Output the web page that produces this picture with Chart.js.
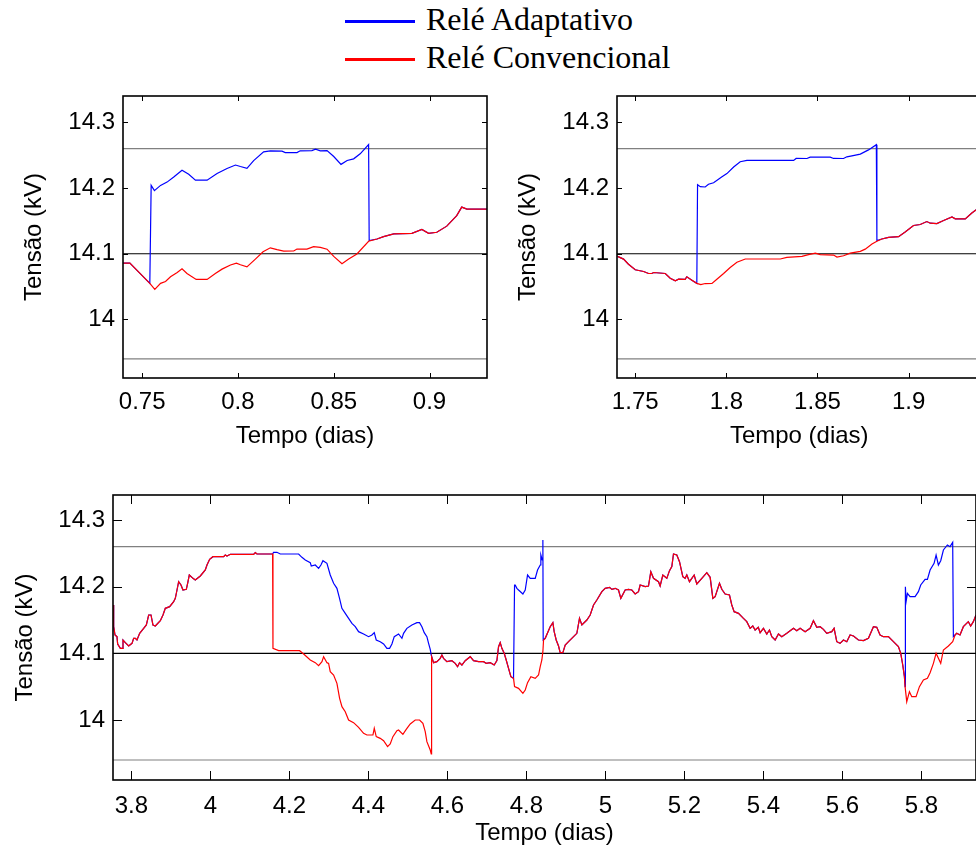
<!DOCTYPE html>
<html>
<head>
<meta charset="utf-8">
<script src="https://cdn.jsdelivr.net/npm/chart.js@4.4.0/dist/chart.umd.min.js"></script>
<style>
  html, body { margin: 0; padding: 0; background: #fff; overflow: hidden; width: 976px; height: 850px; }
  canvas { position: absolute; }
  #legend { position: absolute; left: 345px; top: 0; font-family: "Liberation Serif", "Times New Roman", serif; font-size: 32px; line-height: 38px; color: #000; }
  .item { display: flex; align-items: center; height: 38px; white-space: nowrap; }
  .swatch { width: 70px; height: 3px; margin-right: 11px; position: relative; top: 2px; }
</style>
</head>
<body>
<div id="legend">
  <div class="item"><span class="swatch" style="background:#0000ff"></span>Relé Adaptativo</div>
  <div class="item"><span class="swatch" style="background:#ff0000"></span>Relé Convencional</div>
</div>
<canvas id="chartA" width="500" height="380" style="left:0;top:80px"></canvas>
<canvas id="chartB" width="500" height="380" style="left:500px;top:80px"></canvas>
<canvas id="chartC" width="1000" height="380" style="left:0;top:470px"></canvas>
<script>
// tensão (kV) x tempo (dias)
const NOMINAL = 14.1;
const LIMIT_UP = 14.26;
const LIMIT_LOW = 13.94;
const Y_TICKS = [14, 14.1, 14.2, 14.3];

// janela 1 (0.74 - 0.93 dias)
const A_X_TICKS = [0.75, 0.8, 0.85, 0.9];
const A_START = [[0.7401,14.0858],[0.7436,14.0858],[0.754,14.055]];
const A_CONV = [[0.7566,14.0459],[0.7596,14.055],[0.7622,14.0578],[0.7648,14.065],[0.7683,14.0715],[0.7708,14.077],[0.7734,14.07],[0.7782,14.061],[0.7839,14.061],[0.7882,14.07],[0.7917,14.0766],[0.7961,14.083],[0.7992,14.0858],[0.8013,14.0833],[0.8047,14.08],[0.8091,14.0919],[0.8131,14.103],[0.8169,14.109],[0.8204,14.1062],[0.8239,14.104],[0.8291,14.1042],[0.8308,14.1072],[0.836,14.1072],[0.8395,14.1108],[0.843,14.1098],[0.8465,14.107],[0.85,14.096],[0.8543,14.085],[0.8578,14.0919],[0.8621,14.0996],[0.8682,14.119]];
const A_ADAPT = [[0.7547,14.204],[0.7564,14.196],[0.7596,14.204],[0.763,14.209],[0.7665,14.2168],[0.7708,14.227],[0.7743,14.2209],[0.7778,14.212],[0.7839,14.212],[0.7891,14.222],[0.7943,14.2296],[0.7987,14.235],[0.8013,14.2327],[0.8047,14.23],[0.8082,14.2418],[0.8134,14.255],[0.8169,14.2566],[0.823,14.256],[0.8247,14.254],[0.8308,14.254],[0.8325,14.2566],[0.8386,14.257],[0.8405,14.259],[0.843,14.2566],[0.8465,14.257],[0.85,14.2479],[0.8538,14.236],[0.857,14.2419],[0.8604,14.2444],[0.8638,14.252],[0.8682,14.266],[0.8685,14.12]];
const A_END = [[0.8726,14.1225],[0.876,14.126],[0.8813,14.1302],[0.8908,14.131],[0.896,14.137],[0.8995,14.131],[0.9038,14.1327],[0.909,14.142],[0.9142,14.158],[0.9168,14.171],[0.9195,14.168],[0.93,14.168]];

// janela 2 (1.74 - 1.94 dias)
const B_X_TICKS = [1.75, 1.8, 1.85, 1.9];
const B_START = [[1.7403,14.096],[1.7436,14.0919],[1.7463,14.084],[1.75,14.0756],[1.7546,14.073],[1.7573,14.07],[1.7591,14.07],[1.7601,14.0715],[1.7665,14.07],[1.7692,14.0628],[1.772,14.059],[1.7738,14.0613],[1.7774,14.061],[1.7783,14.065],[1.7811,14.0598],[1.7838,14.055]];
const B_CONV = [[1.786,14.053],[1.7884,14.0547],[1.7921,14.055],[1.7948,14.0613],[1.7985,14.07],[1.8021,14.0792],[1.8058,14.087],[1.8104,14.092],[1.8296,14.092],[1.8332,14.0945],[1.8415,14.096],[1.8451,14.0986],[1.8488,14.101],[1.8515,14.0986],[1.8588,14.098],[1.8607,14.095],[1.8643,14.097],[1.868,14.101],[1.8735,14.1037],[1.8762,14.107],[1.8799,14.1149],[1.8826,14.119]];
const B_ADAPT = [[1.7842,14.205],[1.7857,14.202],[1.7884,14.2016],[1.7902,14.2057],[1.793,14.208],[1.7976,14.217],[1.8003,14.222],[1.804,14.232],[1.8076,14.24],[1.8113,14.242],[1.8369,14.242],[1.8383,14.245],[1.8442,14.2449],[1.846,14.247],[1.857,14.247],[1.8588,14.245],[1.8643,14.2449],[1.8661,14.2475],[1.8689,14.249],[1.8735,14.2516],[1.878,14.258],[1.8823,14.266],[1.8826,14.12]];
const B_END = [[1.8853,14.1225],[1.889,14.125],[1.8945,14.126],[1.8981,14.133],[1.9027,14.143],[1.9064,14.1445],[1.91,14.149],[1.9119,14.1465],[1.9155,14.146],[1.9192,14.1506],[1.9238,14.156],[1.9256,14.1531],[1.9311,14.153],[1.9347,14.162],[1.9371,14.167],[1.94,14.172]];

// janela 3 (3.75 - 5.94 dias)
const C_X_TICKS = [3.8, 4, 4.2, 4.4, 4.6, 4.8, 5, 5.2, 5.4, 5.6, 5.8];
const C_START = [[3.7536,14.1725],[3.7553,14.14],[3.7587,14.1275],[3.7637,14.125],[3.7654,14.114],[3.7722,14.1075],[3.7764,14.1075],[3.7789,14.12],[3.7848,14.116],[3.7933,14.111],[3.8017,14.115],[3.8059,14.1225],[3.8101,14.1225],[3.8143,14.12],[3.8211,14.13],[3.8312,14.1375],[3.838,14.1425],[3.8439,14.1575],[3.8498,14.1575],[3.8548,14.1425],[3.8607,14.141],[3.8734,14.149],[3.8801,14.1575],[3.886,14.1675],[3.897,14.17],[3.9071,14.1775],[3.9113,14.1825],[3.9156,14.195],[3.9198,14.2075],[3.9257,14.2025],[3.9307,14.195],[3.9392,14.196],[3.9425,14.205],[3.9468,14.2175],[3.956,14.2125],[3.9619,14.21],[3.9746,14.216],[3.9872,14.225],[3.9915,14.2325],[3.9982,14.241],[4.0066,14.245],[4.0336,14.245],[4.0378,14.2475],[4.0421,14.246],[4.0505,14.2485],[4.1095,14.2485],[4.1138,14.251],[4.118,14.249],[4.1576,14.249]];
const C_CONV_1 = [[4.1585,14.1075],[4.1728,14.104],[4.2259,14.104],[4.2361,14.099],[4.2529,14.09],[4.2656,14.086],[4.274,14.0815],[4.2825,14.0875],[4.2867,14.095],[4.2951,14.086],[4.2993,14.085],[4.3035,14.0725],[4.312,14.0675],[4.3204,14.055],[4.3272,14.0325],[4.3331,14.02],[4.3415,14.0125],[4.3499,14.0],[4.3626,13.996],[4.3752,13.989],[4.3879,13.98],[4.3963,13.9775],[4.4115,13.9775],[4.4149,13.9875],[4.4199,13.975],[4.43,13.9725],[4.4385,13.969],[4.4486,13.96],[4.4553,13.964],[4.4621,13.975],[4.4722,13.984],[4.4764,13.985],[4.4874,13.9785],[4.4958,13.986],[4.506,13.994],[4.5186,14.0],[4.5296,14.0],[4.538,13.995],[4.5439,13.9825],[4.5481,13.9675],[4.5566,13.955],[4.5591,13.949],[4.56,14.095]];
const C_ADAPT_1 = [[4.16,14.2515],[4.1685,14.2515],[4.177,14.249],[4.2234,14.249],[4.2318,14.244],[4.2403,14.24],[4.2529,14.236],[4.2555,14.231],[4.2656,14.2325],[4.274,14.2275],[4.2799,14.2325],[4.285,14.239],[4.2951,14.235],[4.3035,14.2175],[4.312,14.205],[4.3204,14.1975],[4.327,14.1825],[4.333,14.1675],[4.3415,14.16],[4.35,14.1525],[4.3584,14.145],[4.3668,14.14],[4.3752,14.1325],[4.3879,14.129],[4.4005,14.125],[4.409,14.1275],[4.4149,14.131],[4.4199,14.12],[4.43,14.1175],[4.4385,14.114],[4.4469,14.1075],[4.4537,14.1075],[4.4596,14.114],[4.4655,14.125],[4.4764,14.129],[4.4849,14.1225],[4.4891,14.13],[4.4975,14.1375],[4.5102,14.1425],[4.5228,14.146],[4.5295,14.146],[4.5355,14.14],[4.5414,14.131],[4.5481,14.125],[4.5524,14.115],[4.5566,14.106],[4.5591,14.0975]];
const C_MID_1 = [[4.565,14.086],[4.5734,14.0875],[4.5819,14.0925],[4.5861,14.0975],[4.5903,14.0925],[4.5987,14.0875],[4.6113,14.089],[4.6198,14.085],[4.6257,14.08],[4.6308,14.086],[4.6367,14.0825],[4.6451,14.089],[4.6578,14.095],[4.6662,14.089],[4.6789,14.0875],[4.6915,14.0875],[4.6983,14.085],[4.7084,14.086],[4.7185,14.0825],[4.7253,14.089],[4.7295,14.11],[4.7337,14.116],[4.7379,14.1075],[4.7438,14.1],[4.7489,14.09],[4.7548,14.0775],[4.7607,14.065],[4.7674,14.0625]];
const C_CONV_2 = [[4.77,14.05],[4.7801,14.0475],[4.7911,14.04],[4.797,14.045],[4.8029,14.056],[4.8113,14.065],[4.8223,14.0625],[4.8307,14.0675],[4.835,14.08],[4.8391,14.09],[4.8417,14.1025],[4.8434,14.12]];
const C_ADAPT_2 = [[4.77,14.2025],[4.7717,14.2025],[4.7759,14.1975],[4.7801,14.195],[4.7911,14.189],[4.797,14.195],[4.8029,14.2175],[4.8097,14.2125],[4.8223,14.2125],[4.8282,14.225],[4.835,14.2325],[4.8366,14.2475],[4.84,14.24],[4.8417,14.27],[4.8425,14.12]];
const C_MID_2 = [[4.8476,14.1225],[4.8602,14.14],[4.867,14.146],[4.8703,14.1325],[4.8754,14.12],[4.8813,14.111],[4.8855,14.101],[4.8923,14.101],[4.8982,14.1125],[4.9066,14.1175],[4.9193,14.125],[4.9277,14.13],[4.9344,14.1525],[4.9404,14.1425],[4.953,14.15],[4.9614,14.1575],[4.9699,14.1725],[4.9783,14.18],[4.991,14.1925],[4.9994,14.1975],[5.0104,14.199],[5.0163,14.196],[5.0247,14.1975],[5.0331,14.195],[5.039,14.1825],[5.05,14.195],[5.0584,14.196],[5.0668,14.195],[5.0753,14.189],[5.0837,14.1925],[5.0879,14.2025],[5.1006,14.2],[5.109,14.201],[5.1149,14.2225],[5.1217,14.2125],[5.1343,14.2075],[5.1385,14.201],[5.1453,14.2175],[5.1554,14.2125],[5.1622,14.224],[5.1681,14.23],[5.1723,14.249],[5.1807,14.2475],[5.1875,14.2375],[5.1959,14.215],[5.2018,14.2125],[5.206,14.2175],[5.2128,14.2075],[5.2187,14.2125],[5.2246,14.2175],[5.2313,14.204],[5.244,14.2125],[5.2566,14.221],[5.2651,14.214],[5.2719,14.1825],[5.2777,14.185],[5.2887,14.205],[5.2946,14.196],[5.303,14.189],[5.314,14.1875],[5.3199,14.1725],[5.3258,14.1625],[5.3368,14.16],[5.3494,14.1525],[5.3578,14.1475],[5.3663,14.1375],[5.373,14.141],[5.3789,14.135],[5.387,14.139],[5.3916,14.131],[5.4,14.1375],[5.4085,14.129],[5.4152,14.135],[5.4211,14.125],[5.4296,14.12],[5.438,14.129],[5.4464,14.125],[5.4591,14.13],[5.476,14.1375],[5.4844,14.134],[5.4928,14.1375],[5.5055,14.1325],[5.5181,14.1375],[5.5265,14.149],[5.535,14.139],[5.5434,14.14],[5.5518,14.136],[5.5603,14.13],[5.5729,14.1325],[5.5788,14.1375],[5.5856,14.1175],[5.594,14.115],[5.6025,14.12],[5.6109,14.1175],[5.6193,14.1275],[5.6278,14.126],[5.6404,14.12],[5.6531,14.119],[5.6657,14.1225],[5.6784,14.14],[5.6868,14.139],[5.6952,14.1275],[5.7037,14.125],[5.7163,14.125],[5.729,14.1175],[5.7416,14.11],[5.7475,14.1],[5.7526,14.0825],[5.7568,14.065],[5.7585,14.05]];
const C_CONV_3 = [[5.7627,14.0275],[5.7695,14.0425],[5.7754,14.035],[5.7863,14.035],[5.7948,14.05],[5.8049,14.06],[5.815,14.0625],[5.8218,14.071],[5.8302,14.085],[5.837,14.1],[5.8428,14.0925],[5.8487,14.085],[5.8555,14.105],[5.8681,14.111],[5.879,14.1175]];
const C_ADAPT_3 = [[5.7593,14.2],[5.761,14.1775],[5.7644,14.19],[5.7711,14.185],[5.7838,14.185],[5.7922,14.1925],[5.7981,14.2025],[5.8091,14.211],[5.815,14.211],[5.8218,14.225],[5.8319,14.235],[5.837,14.2475],[5.8428,14.2325],[5.8487,14.239],[5.8555,14.255],[5.8656,14.2625],[5.8723,14.26],[5.879,14.2665],[5.8807,14.125]];
const C_END = [[5.8849,14.1275],[5.8891,14.13],[5.8975,14.1275],[5.906,14.14],[5.9186,14.1475],[5.9245,14.141],[5.9313,14.1475],[5.938,14.1575]];

const FONT = '"Liberation Sans", Arial, Helvetica, sans-serif';
const toXY = pts => pts.map(([t, v]) => ({x: t, y: v}));
const fmt = v => String(Number(v.toFixed(3)));

// caixa e marcas para dentro (estilo MATLAB)
const matlabFrame = {
  id: 'matlabFrame',
  afterDatasetsDraw(chart, args, opts) {
    const {ctx, chartArea: a, scales: {x, y}} = chart;
    const len = opts.tickLen;
    ctx.save();
    ctx.strokeStyle = '#000';
    ctx.lineWidth = 1;
    ctx.beginPath();
    x.ticks.forEach(t => {
      const px = Math.round(x.getPixelForValue(t.value)) + 0.5;
      ctx.moveTo(px, a.bottom); ctx.lineTo(px, a.bottom - len);
      ctx.moveTo(px, a.top); ctx.lineTo(px, a.top + len);
    });
    y.ticks.forEach(t => {
      const py = Math.round(y.getPixelForValue(t.value)) + 0.5;
      ctx.moveTo(a.left, py); ctx.lineTo(a.left + len, py);
      ctx.moveTo(a.right, py); ctx.lineTo(a.right - len, py);
    });
    ctx.stroke();
    ctx.lineWidth = 1.6;
    ctx.strokeRect(a.left, a.top, a.right - a.left, a.bottom - a.top);
    ctx.restore();
  }
};

function refLine(xMin, xMax, val, color) {
  return {data: [{x: xMin, y: val}, {x: xMax, y: val}], borderColor: color, borderWidth: 1.2, pointRadius: 0};
}

function makeChart(id, cfg) {
  const conv = cfg.conv, adapt = cfg.adapt;
  new Chart(document.getElementById(id), {
    type: 'line',
    data: {
      datasets: [
        {label: 'Relé Convencional', data: toXY(conv), borderColor: '#ff0000', borderWidth: 1.2, pointRadius: 0, tension: 0},
        {label: 'Relé Adaptativo', data: toXY(adapt), borderColor: '#0000ff', borderWidth: 1.2, pointRadius: 0, tension: 0},
        refLine(cfg.xMin, cfg.xMax, NOMINAL, '#000000'),
        refLine(cfg.xMin, cfg.xMax, LIMIT_UP, '#808080'),
        refLine(cfg.xMin, cfg.xMax, LIMIT_LOW, '#808080')
      ]
    },
    options: {
      responsive: false,
      animation: false,
      layout: {padding: {top: cfg.padTop, right: cfg.padRight, left: 0, bottom: 0}},
      plugins: {legend: {display: false}, tooltip: {enabled: false}, matlabFrame: {tickLen: cfg.tickLen}},
      scales: {
        x: {
          type: 'linear', min: cfg.xMin, max: cfg.xMax,
          afterBuildTicks: s => { s.ticks = cfg.xTicks.map(v => ({value: v})); },
          afterFit: s => { s.height = cfg.xAxisH; s.paddingLeft = 0; s.paddingRight = 0; },
          grid: {display: false, drawTicks: false},
          border: {display: false},
          ticks: {padding: cfg.xPad, color: '#000', autoSkip: false, maxRotation: 0, font: {family: FONT, size: 24}, callback: v => fmt(v)},
          title: {display: true, text: 'Tempo (dias)', color: '#000', font: {family: FONT, size: 24}, padding: {top: 0, bottom: cfg.xTitlePad}}
        },
        y: {
          type: 'linear', min: cfg.yMin, max: cfg.yMax,
          afterBuildTicks: s => { s.ticks = Y_TICKS.map(v => ({value: v})); },
          afterFit: s => { s.width = cfg.yAxisW; s.paddingTop = 0; s.paddingBottom = 0; },
          grid: {display: false, drawTicks: false},
          border: {display: false},
          ticks: {padding: 8, color: '#000', font: {family: FONT, size: 24}, callback: v => fmt(v)},
          title: {display: true, text: 'Tensão (kV)', color: '#000', font: {family: FONT, size: 24}, padding: {top: cfg.yTitlePad, bottom: 0}}
        }
      }
    },
    plugins: [matlabFrame]
  });
}

makeChart('chartA', {
  conv: [...A_START, ...A_CONV, ...A_END], adapt: [...A_START, ...A_ADAPT, ...A_END],
  xMin: 0.74, xMax: 0.93, xTicks: A_X_TICKS, yMin: 13.911, yMax: 14.34,
  padTop: 16, padRight: 13, yAxisW: 123, xAxisH: 82, xPad: 10, xTitlePad: 9, yTitlePad: 20, tickLen: 5
});
makeChart('chartB', {
  conv: [...B_START, ...B_CONV, ...B_END], adapt: [...B_START, ...B_ADAPT, ...B_END],
  xMin: 1.74, xMax: 1.94, xTicks: B_X_TICKS, yMin: 13.911, yMax: 14.34,
  padTop: 16, padRight: 18.5, yAxisW: 117, xAxisH: 82, xPad: 10, xTitlePad: 9, yTitlePad: 14, tickLen: 5
});
makeChart('chartC', {
  conv: [...C_START, ...C_CONV_1, ...C_MID_1, ...C_CONV_2, ...C_MID_2, ...C_CONV_3, ...C_END],
  adapt: [...C_START, ...C_ADAPT_1, ...C_MID_1, ...C_ADAPT_2, ...C_MID_2, ...C_ADAPT_3, ...C_END],
  xMin: 3.7536, xMax: 5.938, xTicks: C_X_TICKS, yMin: 13.91, yMax: 14.3375,
  padTop: 25, padRight: 24, yAxisW: 113, xAxisH: 70, xPad: 12, xTitlePad: 2, yTitlePad: 11, tickLen: 9
});
</script>
</body>
</html>
